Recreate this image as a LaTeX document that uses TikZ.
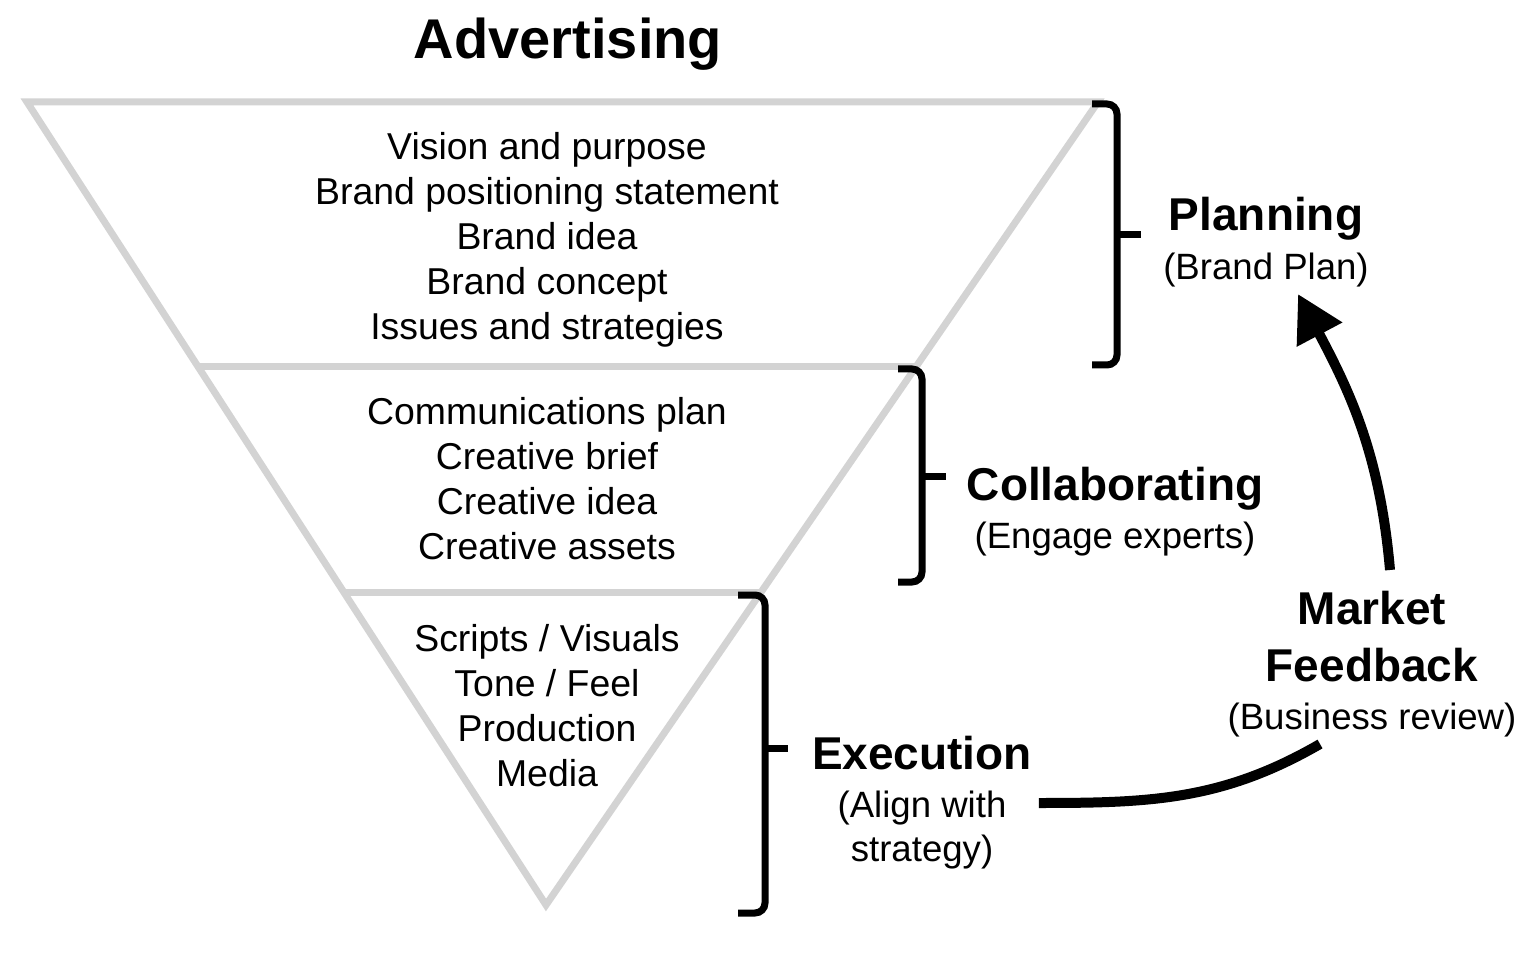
\documentclass[tikz,border=0pt]{standalone}
\usepackage{fontspec}
\setmainfont{Liberation Sans}
\usetikzlibrary{arrows.meta,positioning,calc}
\definecolor{funnel}{HTML}{D3D3D3}

\begin{document}
\begin{tikzpicture}[x=0.5pt,y=-0.5pt,
  layer/.style={draw=funnel,line width=3.5pt,line join=miter},
  items/.style={align=center,font=\fontsize{18.7}{22.5}\selectfont},
  stage/.style={align=center,font=\fontsize{18.3}{22}\selectfont},
  brace/.style={line width=3.5pt,rounded corners=5pt},
  flow/.style={line width=5pt}]
\useasboundingbox (0,0) rectangle (1536,962);
% funnel
\draw[layer] (27,102) -- (1098,102) -- (546,905) -- cycle;
\draw[layer] (198,367) -- (916,367);
\draw[layer] (344,592) -- (761,592);
\node[font=\bfseries\fontsize{28}{34}\selectfont] (title) at (568,44) {Advertising};
\node[items] (brand) at (547,240) {Vision and purpose\\Brand positioning statement\\Brand idea\\Brand concept\\Issues and strategies};
\node[items] (creative) at (547,479) {Communications plan\\Creative brief\\Creative idea\\Creative assets};
\node[items] (produce) at (547,706) {Scripts / Visuals\\Tone / Feel\\Production\\Media};
% brackets
\draw[brace] (1092,104) -- (1117,104) -- (1117,365) -- (1092,365);
\draw[brace] (1117,235) -- (1141,235);
\draw[brace] (898,369) -- (922,369) -- (922,582) -- (898,582);
\draw[brace] (922,476) -- (946,476);
\draw[brace] (738,595) -- (765,595) -- (765,913) -- (738,913);
\draw[brace] (765,748) -- (788,748);
% stage labels
\node[stage] (plan) at (1266,242) {\textbf{\fontsize{23}{28}\selectfont Planning}\\[2.5pt](Brand Plan)};
\node[stage] (collab) at (1115,512) {\textbf{\fontsize{23}{28}\selectfont Collaborating}\\[2pt](Engage experts)};
\node[stage] (exec) at (922,803) {\textbf{\fontsize{23}{28}\selectfont Execution}\\[2pt](Align with\\strategy)};
\node[stage] (market) at (1372,664) {\textbf{\fontsize{23}{28}\selectfont Market}\\[6.5pt]\textbf{\fontsize{23}{28}\selectfont Feedback}\\[2pt](Business review)};
% feedback loop
\draw[flow] (exec.east) to[out=0,in=210] ($(market.south)+(-52,0)$);
\draw[flow,-{Triangle[length=23pt,width=24.5pt]}] ($(market.north)+(18,-14)$)
  to[out=95,in=-62] ($(plan.south)+(32,0)$);
\end{tikzpicture}
\end{document}
